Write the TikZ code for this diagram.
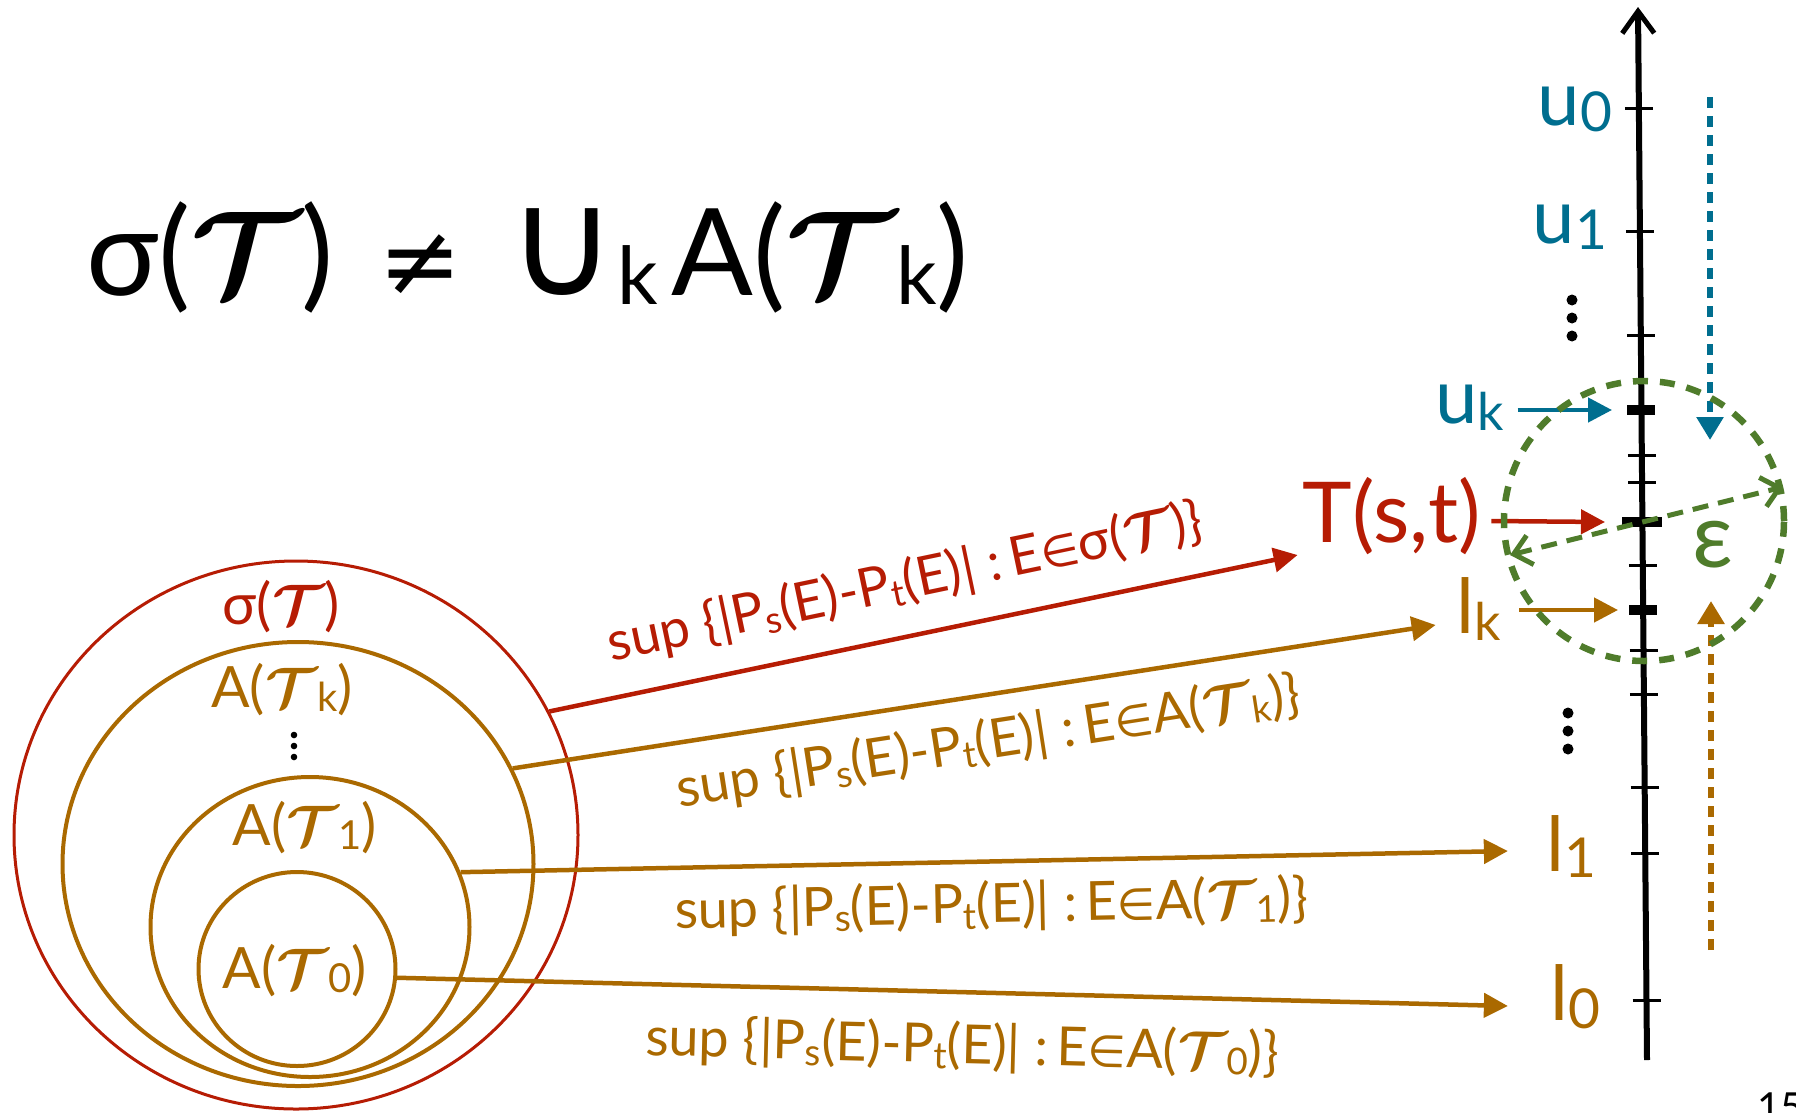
\RequirePackage{fix-cm}
\documentclass[tikz,border=0pt]{standalone}
\usepackage{fontspec}
\setmainfont{Lato}
\newfontfamily\djv{DejaVu Sans}
\usetikzlibrary{arrows.meta,shapes.geometric}
\definecolor{cred}{RGB}{182,28,4}
\definecolor{corg}{RGB}{170,105,0}
\definecolor{cteal}{RGB}{0,110,143}
\definecolor{cgrn}{RGB}{79,124,43}
\newcommand{\fsz}[1]{\fontsize{#1}{#1}\selectfont}
\newcommand{\calT}{{\boldmath$\mathcal{T}$}}
\newcommand{\lowsub}[3]{\raisebox{-#2pt}{\fontsize{#1}{#1}\selectfont #3}}
\newcommand{\supl}[1]{sup \{|P\lowsub{37}{6}{s}(E)-P\lowsub{37}{6}{t}(E)| :\,E{\djv\fsz{44}∈}#1\}}
\begin{document}
\begin{tikzpicture}[x=1pt,y=-1pt,
  circ/.style={ellipse, draw, inner sep=0pt},
  lab/.style={inner sep=0pt, anchor=base},
  arr/.style={line width=4.5pt, -{Triangle[length=24pt,width=24pt]}},
  tickmark/.style={line width=3pt},
  bigtick/.style={line width=10pt},
  suplab/.style={inner sep=0pt, sloped, font=\fsz{54}},
  dotarr/.style={line width=6pt, dash pattern=on 11pt off 8pt, -{Triangle[length=23pt,width=26pt]}}
]
\useasboundingbox (0,0) rectangle (1796,1112);

% title
\node[inner sep=0pt, anchor=base west, font=\fsz{121}] (title) at (86,295)
  {σ(\calT)\hspace{45pt}{\djv\fsz{100}≠}\hspace{45pt}{\djv\fsz{150}∪}\lowsub{80}{9}{k}\hspace{14pt}A(\calT\lowsub{80}{9}{k})};

% nested sets
\node[circ, draw=cred, line width=3pt, minimum width=564pt, minimum height=548pt] (sig) at (296,835) {};
\node[circ, draw=corg, line width=4pt, minimum width=471pt, minimum height=444pt] (ak) at (298,864) {};
\node[circ, draw=corg, line width=4pt, minimum width=319pt, minimum height=300pt] (a1) at (310,927) {};
\node[circ, draw=corg, line width=4pt, minimum width=197pt, minimum height=194pt] (a0) at (297,969) {};

\node[lab, text=cred, font=\fsz{57}] (sigl) at (281,624) {σ(\calT)};
\node[lab, text=corg, font=\fsz{57}] (akl) at (282,707) {A(\calT\lowsub{40}{4}{k})};
\node[lab, text=corg, font=\fsz{57}] (a1l) at (305,845) {A(\calT\lowsub{40}{4}{1})};
\node[lab, text=corg, font=\fsz{57}] (a0l) at (295,988) {A(\calT\lowsub{40}{4}{0})};
\foreach \yy in {735,746,757} \fill (294,\yy) circle (3.3);

% axis
\coordinate (axb) at (1647,1060);
\coordinate (axt) at (1638,7);
\draw[line width=6pt, -{Straight Barb[length=22pt,width=32pt,line width=5pt]}] (axb) -- (axt);
\foreach \yy in {108,231,335,455,482,565,650,694,787,853,1000}
  \draw[tickmark] ({1638+(\yy-7)*0.008547-14},\yy) -- ++(28,0);
\coordinate (tuk) at (1641,410);
\coordinate (tT) at (1642,522);
\coordinate (tlk) at (1643,610);
\draw[bigtick] ([xshift=-14pt]tuk) -- ([xshift=14pt]tuk);
\draw[bigtick] ([xshift=-20pt]tT) -- ([xshift=20pt]tT);
\draw[bigtick] ([xshift=-14pt]tlk) -- ([xshift=14pt]tlk);

% right labels
\node[lab, text=cteal, font=\fsz{76}] (u0) at (1575,125) {u\lowsub{55}{6}{0}};
\node[lab, text=cteal, font=\fsz{76}] (u1) at (1570,243) {u\lowsub{55}{6}{1}};
\node[lab, text=cteal, font=\fsz{76}] (uk) at (1470,423) {u\lowsub{52}{7}{k}};
\node[lab, text=cred, font=\fsz{84}] (T) at (1392,542) {T(s,t)};
\node[lab, text=corg, font=\fsz{76}] (lk) at (1479,633) {l\lowsub{52}{7}{k}};
\node[lab, text=corg, font=\fsz{76}] (l1) at (1571,871) {l\lowsub{55}{6}{1}};
\node[lab, text=corg, font=\fsz{76}] (l0) at (1575,1020) {l\lowsub{55}{8}{0}};
\node[lab, text=cgrn, font=\fsz{90}] (eps) at (1713,567) {ε};
\foreach \yy in {300,318,336} \fill (1572,\yy) circle (5.5);
\foreach \yy in {713,731,749} \fill (1568,\yy) circle (5.5);

% short arrows to the axis
\draw[arr, cteal] ([xshift=13pt,yshift=13pt]uk.base east) -- ([xshift=-29pt]tuk);
\draw[arr, cred] ([xshift=10pt,yshift=21pt]T.base east) -- ([xshift=-37pt]tT);
\draw[arr, corg] ([xshift=18pt,yshift=23pt]lk.base east) -- ([xshift=-25pt]tlk);

% dotted arrows
\coordinate (bd1) at (1710,97);
\coordinate (bd2) at (1710,440);
\coordinate (od1) at (1711,950);
\coordinate (od2) at (1711,601);
\draw[dotarr, cteal] (bd1) -- (bd2);
\draw[dotarr, corg] (od1) -- (od2);

% epsilon neighbourhood
\node[circle, draw=cgrn, line width=6.5pt, dash pattern=on 15pt off 12pt, minimum size=280pt, inner sep=0pt] (epsc) at (1644,521) {};
\coordinate (ga) at (1510,555);
\coordinate (gb) at (1783,487);
\draw[cgrn, line width=5pt, dash pattern=on 16pt off 10pt,
  {Straight Barb[length=17pt,width=30pt]}-{Straight Barb[length=17pt,width=30pt]}] (ga) -- (gb);

% long arrows with sup labels
\draw[arr, cred] (sig.26) -- node[suplab, pos=0.49, above=25pt, text=cred] {\supl{σ(\calT)}}
  ([xshift=-5pt,yshift=-13pt]T.base west);
\draw[arr, corg] (ak.24) -- node[suplab, pos=0.508, below=20pt, text=corg] {\supl{A(\calT\lowsub{37}{5}{k})}}
  ([xshift=-21pt,yshift=8pt]lk.base west);
\draw[arr, corg] (a1.20) -- node[suplab, pos=0.506, below=17pt, text=corg] {\supl{A(\calT\lowsub{37}{5}{1})}}
  ([xshift=-38pt,yshift=20pt]l1.base west);
\draw[arr, corg] (a0.-5) -- node[suplab, pos=0.51, below=27pt, text=corg] {\supl{A(\calT\lowsub{37}{5}{0})}}
  ([xshift=-42pt,yshift=14pt]l0.base west);

% page number (cut by the frame)
\node[anchor=north west, inner sep=0pt, font=\fsz{40}] (pg) at (1757,1093) {15};
\end{tikzpicture}
\end{document}
